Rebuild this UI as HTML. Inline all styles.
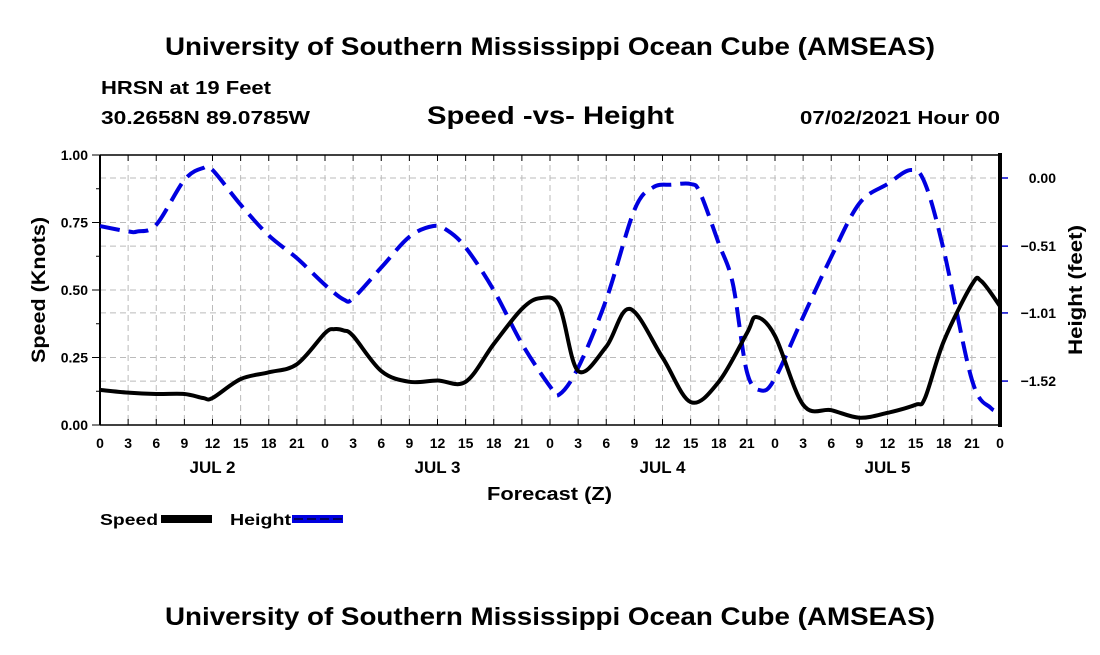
<!DOCTYPE html>
<html><head><meta charset="utf-8"><style>
body{margin:0;background:#fff;}
svg text{font-family:"Liberation Sans",sans-serif;font-weight:bold;fill:#000;}
</style></head><body>
<svg width="1100" height="650" viewBox="0 0 1100 650">
<rect width="1100" height="650" fill="#fff"/>
<text x="165" y="55" font-size="25" textLength="770" lengthAdjust="spacingAndGlyphs">University of Southern Mississippi Ocean Cube (AMSEAS)</text>
<text x="101" y="94" font-size="18" textLength="170" lengthAdjust="spacingAndGlyphs">HRSN at 19 Feet</text>
<text x="101" y="124" font-size="18" textLength="209" lengthAdjust="spacingAndGlyphs">30.2658N  89.0785W</text>
<text x="427" y="124" font-size="25" textLength="247" lengthAdjust="spacingAndGlyphs">Speed -vs- Height</text>
<text x="800" y="124" font-size="18" textLength="200" lengthAdjust="spacingAndGlyphs">07/02/2021 Hour 00</text>
<g id="grid"></g>
<g id="axes"></g>
<g id="series"></g>
<text x="487" y="500" font-size="18" textLength="125" lengthAdjust="spacingAndGlyphs">Forecast (Z)</text>
<text transform="translate(45,363) rotate(-90)" font-size="19" textLength="146" lengthAdjust="spacingAndGlyphs">Speed (Knots)</text>
<text transform="translate(1082,355) rotate(-90)" font-size="19" textLength="130" lengthAdjust="spacingAndGlyphs">Height (feet)</text>
<g>
<text x="100" y="525" font-size="16" textLength="58" lengthAdjust="spacingAndGlyphs">Speed</text>
<rect x="161" y="515" width="51" height="8" fill="#000"/>
<text x="230" y="525" font-size="16" textLength="61" lengthAdjust="spacingAndGlyphs">Height</text>
<rect x="292" y="515" width="51" height="8" fill="#0000e0"/>
<line x1="294" y1="519" x2="342" y2="519" stroke="#000060" stroke-width="2" stroke-dasharray="9,4"/>
</g>
<text x="165" y="625" font-size="25" textLength="770" lengthAdjust="spacingAndGlyphs">University of Southern Mississippi Ocean Cube (AMSEAS)</text>
</svg>
<script>
const speedHours=[0,3,6,9,11,12,15,18,21,24,25,26,27,30,33,36,39,42,45,47,49,51,54,56.5,60,63,66,69,70,72,75,78,81,84,87,88,90,93,94,96];
const speedVals=[0.13,0.12,0.115,0.115,0.10,0.10,0.17,0.195,0.225,0.34,0.355,0.35,0.33,0.20,0.16,0.165,0.16,0.30,0.43,0.47,0.44,0.20,0.29,0.43,0.25,0.085,0.16,0.34,0.40,0.33,0.075,0.055,0.027,0.045,0.075,0.1,0.31,0.52,0.533,0.44];
const heightHours=[0,3,4,6,9,11,12,15,18,21,24,26,27,30,33,35.5,37,39,42,45,48,49,51,54,57,59,61,63,64,66,67.5,69,70.5,72,75,78,81,84,86.5,88,90,93,95,96];
const heightVals=[-0.36,-0.40,-0.40,-0.35,-0.015,0.075,0.06,-0.2,-0.43,-0.6,-0.80,-0.91,-0.90,-0.67,-0.44,-0.36,-0.39,-0.52,-0.84,-1.24,-1.56,-1.62,-1.42,-0.91,-0.24,-0.07,-0.05,-0.045,-0.11,-0.49,-0.79,-1.45,-1.59,-1.50,-1.04,-0.59,-0.19,-0.045,0.06,-0.04,-0.54,-1.51,-1.72,-1.74];
const leftTicks=[0,0.25,0.5,0.75,1.0];
const leftTickLabels=["0.00","0.25","0.50","0.75","1.00"];
const rightTicks=[0.0,-0.51,-1.01,-1.52];
const rightTickLabels=["0.00","-0.51","-1.01","-1.52"];
const hourLabels=["0","3","6","9","12","15","18","21"];
const dayLabels=["JUL 2","JUL 3","JUL 4","JUL 5"];

const X0=100,X1=1000,Y0=155,Y1=425;
const xs=h=>X0+(X1-X0)*h/96;
const yL=v=>Y1-(Y1-Y0)*v;
const yR=f=>178-133.6*f;
const NS="http://www.w3.org/2000/svg";
function mk(tag,parent,attrs){const e=document.createElementNS(NS,tag);for(const k in attrs)e.setAttribute(k,attrs[k]);parent.appendChild(e);return e;}
const grid=document.getElementById('grid'),axes=document.getElementById('axes'),series=document.getElementById('series');
const gs={stroke:"#bbb","stroke-width":1,"stroke-dasharray":"6,4"};
for(let h=0;h<=96;h+=3){
  const x=xs(h);
  if(h>0&&h<96){const g=mk('line',grid,Object.assign({x1:x,y1:Y0,x2:x,y2:Y1},gs));
  
  }
  const t=mk('line',axes,{x1:x,y1:Y1,x2:x,y2:Y1-6,stroke:"#000","stroke-width":1});
  
  
  const t2=mk('line',axes,{x1:x,y1:Y0,x2:x,y2:Y0+6,stroke:"#000","stroke-width":1});
  
  
  const lb=mk('text',axes,{x:x,y:448,"font-size":14,"text-anchor":"middle"});
  lb.textContent=hourLabels[(h/3)%8];
  
  
}
dayLabels.forEach((d,i)=>{const t=mk('text',axes,{x:xs(i*24+12),y:473,"font-size":17,"text-anchor":"middle"});t.textContent=d;

});
leftTicks.forEach((v,i)=>{const y=yL(v);
 if(v>0&&v<1){const g=mk('line',grid,Object.assign({x1:X0,y1:y,x2:X1,y2:y},gs));
 
 }
 const t=mk('line',axes,{x1:X0-8,y1:y,x2:X0,y2:y,stroke:"#000","stroke-width":1});
 
 
 const l=mk('text',axes,{x:X0-12,y:y+5,"font-size":14,"text-anchor":"end"});l.textContent=leftTickLabels[i];
 
 });
for(let v=0.125;v<1;v+=0.25){const t=mk('line',axes,{x1:X0-4,y1:yL(v),x2:X0,y2:yL(v),stroke:"#000"});

}
rightTicks.forEach((f,i)=>{const y=yR(f);
 const g=mk('line',grid,Object.assign({x1:X0,y1:y,x2:X1,y2:y},gs));
 
 
 const t=mk('line',axes,{x1:X1,y1:y,x2:X1+8,y2:y,stroke:"#0000cc","stroke-width":1.5});
 
 
 const l=mk('text',axes,{x:1056,y:y+5,"font-size":14,"text-anchor":"end"});l.textContent=rightTickLabels[i].replace('-','\u2212');
 
 });
const fr=[[X0,Y0,X1,Y0,1.5],[X0,Y1,X1,Y1,1.5],[X0,Y0,X0,Y1,2],[X1,Y0-2,X1,Y1+2,4]];
fr.forEach(a=>{const l=mk('line',axes,{x1:a[0],y1:a[1],x2:a[2],y2:a[3],stroke:"#000","stroke-width":a[4]});

});
function smooth(pts){let d=`M${pts[0][0]},${pts[0][1]}`;
 for(let i=0;i<pts.length-1;i++){const p0=pts[i-1]||pts[i],p1=pts[i],p2=pts[i+1],p3=pts[i+2]||p2;
  const c1=[p1[0]+(p2[0]-p0[0])/6,p1[1]+(p2[1]-p0[1])/6],c2=[p2[0]-(p3[0]-p1[0])/6,p2[1]-(p3[1]-p1[1])/6];
  d+=` C${c1[0]},${c1[1]} ${c2[0]},${c2[1]} ${p2[0]},${p2[1]}`;}
 return d;}
const hp=mk('path',series,{d:smooth(heightHours.map((h,i)=>[xs(h),yR(heightVals[i])])),fill:"none",stroke:"#0000e0","stroke-width":4,"stroke-dasharray":"20,9"});


const sp=mk('path',series,{d:smooth(speedHours.map((h,i)=>[xs(h),yL(speedVals[i])])),fill:"none",stroke:"#000","stroke-width":4,"stroke-linejoin":"round"});


</script>
</body></html>
